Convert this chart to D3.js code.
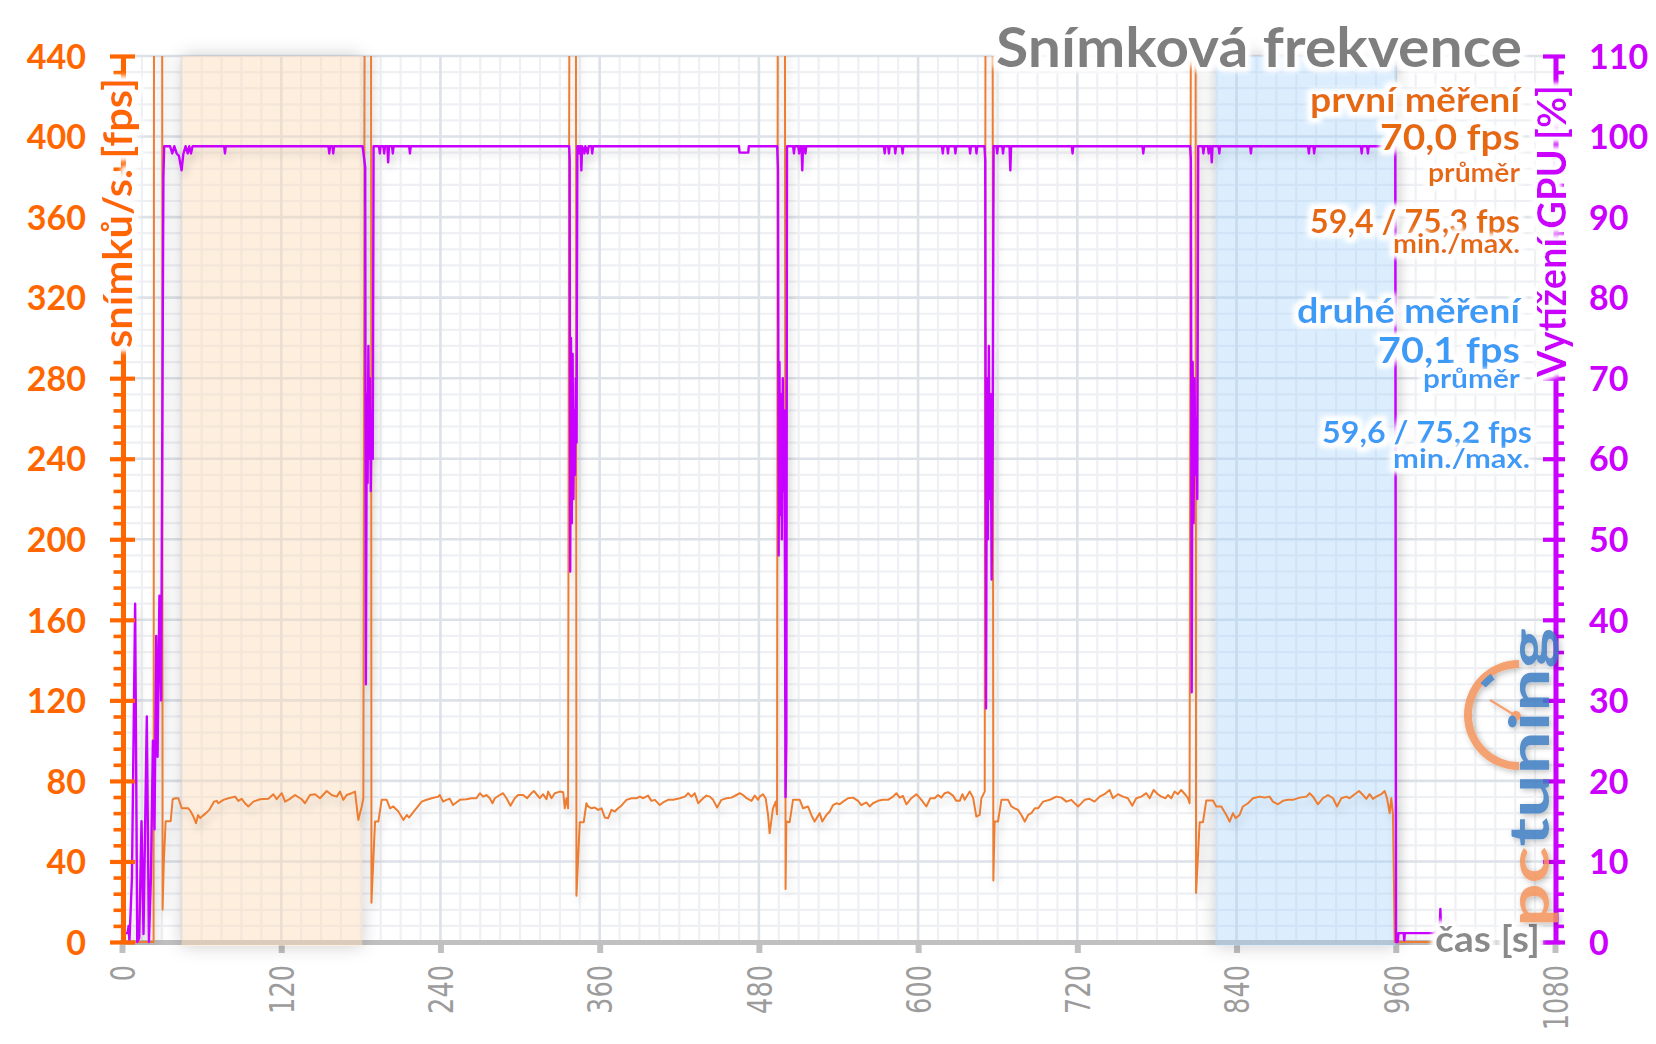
<!DOCTYPE html>
<html lang="cs">
<head>
<meta charset="utf-8">
<title>Snímková frekvence</title>
<script src="https://cdn.jsdelivr.net/npm/d3@7"></script>
<style>
html,body{margin:0;padding:0;background:#fff;overflow:hidden}
svg{display:block}
</style>
</head>
<body>
<svg id="chart" width="1656" height="1044"></svg>
<script>
// ---------------- DATA ----------------
const xTicks = [0,120,240,360,480,600,720,840,960,1080];
const fpsTicks = [0,40,80,120,160,200,240,280,320,360,400,440];
const gpuTicks = [0,10,20,30,40,50,60,70,80,90,100,110];
const bandFirst = [45,181];
const bandSecond = [824,960];
const chartTitle = 'Snímková frekvence';
const fpsAxisTitle = 'snímků/s. [fps]';
const gpuAxisTitle = 'Vytížení GPU [%]';
const timeAxisTitle = 'čas [s]';
const legendFirst = ['první měření','70,0 fps','průměr','59,4 / 75,3 fps','min./max.'];
const legendSecond = ['druhé měření','70,1 fps','průměr','59,6 / 75,2 fps','min./max.'];

// [time s, fps]  (600 = off-scale spike during loading)
const fpsData = [
[0,0],[23.8,0],[24.2,600],[30.2,600],[30.6,16],[31.5,39],[32.9,60],[36.7,60],[38.2,70.9],[40,71.4],[42.5,71.4],[45,66.4],[50,66.4],[51.8,64.8],[53.8,62.3],[55.8,59],[57.3,63],[59,61.5],[60.5,62.5],[63.3,64],[65.8,65.6],[69.3,69.7],[71.4,70.1],[72.6,68.9],[76.4,70.6],[80.2,71.4],[85.2,72.2],[87.7,70.1],[90.2,71.1],[92.7,68.9],[95.2,67.3],[99,69.7],[104,70.9],[110.3,71.1],[114.1,73.4],[116.6,70.9],[120.4,73.9],[122.9,69.7],[126.6,71.1],[130.4,73],[135.4,70.9],[137.9,68.9],[141.7,73],[145.5,73.4],[149.2,71.4],[154.3,75],[158,73],[161.8,72.2],[164.3,74.7],[166.8,70.6],[169.3,73],[173.1,73.9],[175.6,74.7],[178.1,60.6],[180.7,67.3],[181.9,71.4],[183.2,600],[187.6,600],[188,19.5],[190.7,59.8],[193.2,59.8],[195.7,70.6],[199.5,70.6],[202,66.4],[204.5,67.3],[208.3,64.8],[212.1,60.6],[214.6,63.1],[216.3,61.8],[220.9,65.6],[225.9,69.7],[229,70.5],[233.4,71.4],[238.4,72.2],
[239.5,73],[242,69.7],[244.5,70.6],[247,71.1],[249.5,68],[252,69.3],[254.6,70.6],[259.6,70.9],[263.4,71.4],[267.1,71.4],[269.7,73.9],[272.2,72.2],[274.7,73],[277.2,71.4],[279.2,68.9],[281,71.4],[284.7,73],[287.2,73.9],[289.8,71.4],[292.8,67.7],[296,71.4],[298.5,73],[302.3,73],[305.3,71.4],[308.6,73.9],[310.4,75],[312.9,73],[314.9,71.4],[317.4,73.4],[319.9,70.9],[321.2,74.7],[323.7,71.4],[326.2,73.9],[330,74.7],[332.5,74.4],[333.7,66.4],[335,71.4],[336.2,66.4],[337.5,600],[342,600],[342.5,23],[345,59.5],[348,59.5],[350,68.9],[351.3,67.3],[353.8,66.4],[356.3,66.8],[358.8,65.6],[361.4,66.4],[363.9,61.8],[366.4,61.5],[368.9,65.6],[371.4,64.8],[373.9,66.4],[376.4,67.7],[380.2,70.6],[384,71.4],[387.7,71.4],[390.3,72.2],[392.8,71.4],[396.5,72.7],[399,70.1],[401.6,70.6],[405.3,68],[407.8,69.3],[411.6,70.6],[415.4,70.6],[420.4,71.4],[424.2,72.2],[426.7,73.9],[429.2,72.2],[431.7,73.9],[434.2,68.9],[438,71.4],[440.5,72.7],[443,72.2],[445.5,70.6],[448.5,66.8],[451.8,70.6],[455.6,71.4],[459.3,71.7],[463.1,73],[465.6,73.9],[468.1,73],[470.7,71.4],[474.4,70.1],[476.9,72.7],[479.4,70.6],
[480.6,72.2],[483.1,73.4],[485.1,71.4],[486.9,63.1],[488.1,54],[490.6,66.4],[492.7,69.7],[493.7,63.4],[494.4,600],[499.5,600],[500.1,26.3],[500.7,59.8],[503.2,59.5],[505.7,70.6],[510.8,70.6],[513.3,66.4],[517,67.3],[519.5,63.1],[522,59.8],[525.8,64],[527.8,59.8],[530.9,63.1],[533.4,64.8],[535.9,68],[538.4,68.9],[540.9,68.4],[543.4,69.7],[547.2,71.4],[551,71.7],[554.7,70.1],[557.2,68],[561,69.3],[563.5,67.3],[566,68.9],[569.8,70.1],[573.6,70.6],[577.3,70.6],[581.1,72.2],[583.6,73.9],[586.1,71.7],[588.6,72.5],[591.2,68.4],[594.9,71.4],[598.7,73.4],[602.5,70.6],[606.2,67.3],[609.2,71.4],[612.5,71.4],[615,73],[617.5,71.7],[620,73.9],[622.6,74.4],[626.3,72.7],[628.8,70.1],[631.4,70.1],[633.4,73.4],[635.1,70.6],[638.9,74.7],[641.4,71.7],[643.9,62.3],[646.4,63.1],[647.7,71.4],[650.2,74.7],[651,600],[656,600],[656.7,30.6],[657.7,59.8],[660.2,59.8],[662.8,70.6],[667.8,70.6],[670.3,67.3],[672.8,66.4],[675.3,65.6],[677.8,63.1],[680.4,59.8],[682.9,63.1],[685.4,64],[687.9,66.4],[690.4,66.4],[694.2,69.7],[699.2,70.6],[701.7,71.4],[704.2,72.2],[708,71.7],[711.8,69.7],[715.5,70.6],[718,68.9],[720.6,67.3],
[721.7,68],[725.5,70.6],[729.2,71.1],[733,69.7],[736.8,72.2],[740.5,73.4],[744.3,75.5],[746.8,71.4],[750.6,73.4],[754.4,72.2],[758.1,71.4],[761.4,67.7],[764.4,71.4],[768.2,72.2],[772,73.9],[774.5,71.4],[777.5,75.5],[780.7,73.4],[783.3,72.2],[786.5,71.4],[788.3,73],[790.8,71.4],[793.3,74.7],[795.8,73.4],[798.3,75.5],[801.6,73],[803.4,71.4],[804.6,68.9],[805.9,600],[809,600],[809.5,24.3],[812.2,59.5],[814.7,59.5],[817.2,70.3],[822.2,70.3],[824.7,67.3],[828.5,67.3],[832.3,63.1],[834.8,59.8],[837.3,64],[839.3,61.5],[842.3,63.1],[844.8,67.3],[848.6,68.9],[852.4,71.4],[857.4,72.2],[861.1,71.7],[864.9,72.2],[867.4,69.7],[871.2,68.4],[875,70.1],[878.7,70.6],[882.5,70.6],[887.5,71.7],[892.6,72.2],[895.1,73.9],[897.6,72.2],[901.3,68.4],[905.1,71.4],[908.9,73],[912.7,71.4],[915.7,67.3],[919,71.4],[922.7,72.2],[925.2,71.4],[929,73.4],[932.3,75],[935.3,73],[937.8,71.1],[940.3,73.4],[942.8,71.1],[945.3,72.2],[949.1,73.4],[951.6,75],[953.4,71.4],[955.4,64],[956.6,71.4],[957.9,63.4],[959.2,0],[988,0]
];

// [time s, GPU load %]
const gpuData = [
[0,1.1],[4.2,1.1],[5,2],[5.6,0],[7.5,8],[9.9,42],[11.5,0],[13,0.5],[14.7,15],[16.2,1],[18.7,28],[20.3,0],[21.8,8],[23.3,25],[24.5,14],[25.8,38],[26.8,23],[28.2,43],[29.5,30],[31.2,95],[31.8,98.8],
[36.2,98.8],[37.9,97.9],[39.4,98.8],[41.2,97.9],[42.9,97.6],[44.9,95.8],[46.2,97.8],[47.9,98.8],[49.5,97.9],[50.7,98.8],[52,97.9],[53.2,98.8],
[77,98.8],[77.6,97.9],[78.2,98.8],[155.6,98.8],[156.2,97.9],[156.8,98.8],[158.6,98.8],[159.2,97.9],[159.8,98.8],[181.3,98.8],[183.3,96.2],
[183.8,32],[184.5,68],[185.1,57],[185.7,74],[186.3,60],[186.9,70],[187.5,56],[188.2,66],[189,60],[189.6,98.8],
[193.7,98.8],[194.3,97.9],[194.9,98.8],[197,98.8],[197.6,97.9],[198.2,98.8],[200,98.8],[200.6,96.8],[201.2,98.8],[203.5,98.8],[204.1,97.9],[204.7,98.8],[216.4,98.8],[217,97.9],[217.6,98.8],
[337,98.8],[337.4,97],[337.8,46],[338.4,75],[339,52],[339.6,73],[340.2,55],[340.8,66],[341.4,58],[342,70],[342.6,62],[343.2,98.8],
[344,98.8],[344.5,97.9],[345.1,98.8],[345.7,98.8],[346.2,95.8],[346.8,98.8],[348.5,97.9],[349.2,98.8],[351,97.9],[351.7,98.8],[353.8,98.8],[354.4,97.9],[355,98.8],
[465,98.8],[465.4,98],[472,98],[472.4,98.8],
[493.8,98.8],[494.4,96],[494.9,48],[495.5,72],[496.1,53],[496.7,68],[497.3,50],[498,70],[498.6,56],[499.3,66],[500.1,18],[500.7,25],[501.2,98.8],
[505.8,98.8],[506.4,97.9],[507,98.8],[509.7,98.8],[510.3,97.9],[510.9,98.8],[512.1,98.8],[512.7,95.8],[513.3,98.8],[514.5,98.8],[515.1,97.9],[515.7,98.8],
[574.2,98.8],[574.8,97.9],[575.4,98.8],[577.4,98.8],[578,97.9],[578.6,98.8],[582.2,98.8],[582.8,97.9],[583.4,98.8],[587.7,98.8],[588.3,97.9],[588.9,98.8],
[618,98.8],[618.6,97.9],[619.2,98.8],[621.9,98.8],[622.5,97.9],[623.1,98.8],[627.5,98.8],[628.1,97.9],[628.7,98.8],[638.6,98.8],[639.2,97.9],[639.8,98.8],[643.4,98.8],[644,97.9],[644.6,98.8],
[650,98.8],[650.6,97],[651.2,29],[651.9,70],[652.6,50],[653.3,74],[654,55],[654.7,68],[655.4,45],[656.2,62],[656.9,98.8],
[659,98.8],[659.6,97.9],[660.2,98.8],[663.4,98.8],[664,97.9],[664.6,98.8],[668.9,98.8],[669.5,95.8],[670.1,98.8],[715.8,98.8],[716.4,97.9],[717,98.8],[769.1,98.8],[769.7,97.9],[770.3,98.8],
[805,98.8],[805.6,97],[806.2,31],[806.9,72],[807.6,52],[808.3,70],[809,58],[809.7,65],[810.4,55],[811.1,98.8],
[814.4,98.8],[815,97.9],[815.6,98.8],[818.4,98.8],[819,97.9],[819.6,98.8],[820.7,98.8],[821.3,96.8],[821.9,98.8],[826.4,98.8],[827,97.9],[827.6,98.8],[850.2,98.8],[850.8,97.9],[851.4,98.8],[893.9,98.8],[894.5,97.9],[895.1,98.8],[897.9,98.8],[898.5,97.9],[899.1,98.8],[933.7,98.8],[934.3,97.9],[934.9,98.8],[938.4,98.8],[939,97.9],[939.6,98.8],
[959.6,98.8],[960.2,0],[961.5,0],[962,1.1],[966,1.1],[966.4,0.2],[966.8,1.1],[988,1.1],[993,1.3],[993.6,4.1],[994.2,1.5],[1000,1.3]
];

// ---------------- CHART ----------------
const svg = d3.select('#chart');
const P = {left:122, right:1555, top:56, bottom:942};
const x  = d3.scaleLinear().domain([0,1080]).range([P.left, P.right]);
const yF = d3.scaleLinear().domain([0,440]).range([P.bottom, P.top]);
const yG = d3.scaleLinear().domain([0,110]).range([P.bottom, P.top]);

const BOLD = "Lato, 'Open Sans', 'DejaVu Sans', sans-serif";
const C = {axisOrange:'#ff6600', lineOrange:'#ed7d31', textOrange:'#e66a0c', magenta:'#cc00ff',
           lineMagenta:'#c800ff', blue:'#3b9bf7', gray:'#7f7f7f', tickGray:'#9c9c9c', axisGray:'#c0c0c0'};

const defs = svg.append('defs');
// white glow behind texts
const halo = defs.append('filter').attr('id','halo').attr('x','-15%').attr('y','-40%').attr('width','130%').attr('height','180%');
halo.append('feMorphology').attr('in','SourceAlpha').attr('operator','dilate').attr('radius',4).attr('result','dil');
halo.append('feGaussianBlur').attr('in','dil').attr('stdDeviation',2.5).attr('result','blur');
halo.append('feFlood').attr('flood-color','#fff').attr('result','white');
halo.append('feComposite').attr('in','white').attr('in2','blur').attr('operator','in').attr('result','glow');
const hm = halo.append('feMerge');
hm.append('feMergeNode').attr('in','glow');
hm.append('feMergeNode').attr('in','glow');
hm.append('feMergeNode').attr('in','SourceGraphic');

// soft drop shadow for lines
const ls = defs.append('filter').attr('id','lineShadow').attr('filterUnits','userSpaceOnUse')
  .attr('x',0).attr('y',0).attr('width',1656).attr('height',1044);
ls.append('feGaussianBlur').attr('in','SourceAlpha').attr('stdDeviation',4).attr('result','b');
ls.append('feOffset').attr('in','b').attr('dx',3).attr('dy',6).attr('result','o');
ls.append('feComponentTransfer').attr('in','o').attr('result','s').append('feFuncA').attr('type','linear').attr('slope',0.16);
const lm = ls.append('feMerge');
lm.append('feMergeNode').attr('in','s');
lm.append('feMergeNode').attr('in','SourceGraphic');

// outer shadow of bands
const bs = defs.append('filter').attr('id','bandShadow').attr('filterUnits','userSpaceOnUse')
  .attr('x',0).attr('y',0).attr('width',1656).attr('height',1044);
bs.append('feGaussianBlur').attr('in','SourceAlpha').attr('stdDeviation',9).attr('result','b');
bs.append('feComposite').attr('in','b').attr('in2','SourceAlpha').attr('operator','out').attr('result','o');
bs.append('feFlood').attr('flood-color','#000').attr('flood-opacity',0.2).attr('result','f');
bs.append('feComposite').attr('in','f').attr('in2','o').attr('operator','in');

// logo shadow
const lgs = defs.append('filter').attr('id','logoShadow').attr('x','-30%').attr('y','-30%').attr('width','160%').attr('height','160%');
lgs.append('feDropShadow').attr('dx',2).attr('dy',2).attr('stdDeviation',3).attr('flood-color','#000').attr('flood-opacity',0.3);

defs.append('clipPath').attr('id','plotClip').append('rect')
  .attr('x',P.left).attr('y',P.top).attr('width',P.right-P.left+4).attr('height',P.bottom-P.top+3);

// ---- grid ----
const grid = svg.append('g');
const vMinor = d3.range(0,1081,15).filter(d=>d%120!==0);
const hMinor = d3.range(0,441,8).filter(d=>d%40!==0);
grid.selectAll('line.vmin').data(vMinor).join('line').attr('class','vmin')
  .attr('x1',d=>x(d)).attr('x2',d=>x(d)).attr('y1',P.top).attr('y2',P.bottom)
  .attr('stroke','#eef0f4').attr('stroke-width',2.2);
grid.selectAll('line.hmin').data(hMinor).join('line').attr('class','hmin')
  .attr('y1',d=>yF(d)).attr('y2',d=>yF(d)).attr('x1',P.left).attr('x2',P.right)
  .attr('stroke','#eef0f4').attr('stroke-width',2.2);
grid.selectAll('line.vmaj').data(xTicks).join('line').attr('class','vmaj')
  .attr('x1',d=>x(d)).attr('x2',d=>x(d)).attr('y1',P.top).attr('y2',P.bottom)
  .attr('stroke','#dde1e8').attr('stroke-width',2.6);
grid.selectAll('line.hmaj').data(fpsTicks).join('line').attr('class','hmaj')
  .attr('y1',d=>yF(d)).attr('y2',d=>yF(d)).attr('x1',P.left).attr('x2',P.right)
  .attr('stroke','#dde1e8').attr('stroke-width',2.6);

// ---- x axis ----
svg.append('line').attr('x1',P.left-2).attr('x2',P.right+5).attr('y1',P.bottom+0.5).attr('y2',P.bottom+0.5)
  .attr('stroke',C.axisGray).attr('stroke-width',5);
const gx = svg.append('g').attr('transform',`translate(0,${P.bottom+3})`)
  .call(d3.axisBottom(x).tickValues(xTicks).tickSize(8).tickSizeOuter(0).tickFormat(d3.format('d')));
gx.select('.domain').remove();
gx.selectAll('.tick line').attr('stroke',C.axisGray).attr('stroke-width',6);
gx.selectAll('.tick text')
  .attr('x',0).attr('y',0).attr('dy','0.36em')
  .attr('text-anchor','end')
  .attr('transform','translate(0,20) rotate(-90)')
  .attr('fill',C.tickGray)
  .style('font-family',"'Liberation Sans Narrow','DejaVu Sans Condensed','Liberation Sans',sans-serif")
  .style('font-size','34px')
  .attr('textLength',d=>String(d).length*16.3)
  .attr('lengthAdjust','spacingAndGlyphs');

// ---- bands ----
const bands = [{r:bandFirst, fill:'#fbd9b5', op:0.45},{r:bandSecond, fill:'#9fcffc', op:0.36}];
const bandG = svg.append('g');
bandG.selectAll('rect.bs').data(bands).join('rect').attr('class','bs')
  .attr('x',d=>x(d.r[0])).attr('width',d=>x(d.r[1])-x(d.r[0]))
  .attr('y',P.top).attr('height',P.bottom-P.top+4)
  .attr('fill','#000').attr('filter','url(#bandShadow)');
bandG.selectAll('rect.bf').data(bands).join('rect').attr('class','bf')
  .attr('x',d=>x(d.r[0])).attr('width',d=>x(d.r[1])-x(d.r[0]))
  .attr('y',P.top).attr('height',P.bottom-P.top+4)
  .attr('fill',d=>d.fill).attr('fill-opacity',d=>d.op);

// ---- lines ----
const lineF = d3.line().x(d=>x(d[0])).y(d=>yF(d[1]));
const lineG = d3.line().x(d=>x(d[0])).y(d=>yG(d[1]));
const lines = svg.append('g').attr('clip-path','url(#plotClip)').append('g').attr('filter','url(#lineShadow)');
lines.append('path').datum(fpsData).attr('d',lineF).attr('fill','none')
  .attr('stroke',C.lineOrange).attr('stroke-width',2).attr('stroke-linejoin','round');
lines.append('path').datum(gpuData).attr('d',lineG).attr('fill','none')
  .attr('stroke',C.lineMagenta).attr('stroke-width',2.4).attr('stroke-linejoin','round');

// ---- left axis (fps) ----
const LX = 123.5;
const gLmin = svg.append('g').attr('transform',`translate(${LX},0)`)
  .call(d3.axisLeft(yF).tickValues(hMinor).tickSize(10).tickSizeOuter(0).tickFormat(''));
gLmin.select('.domain').remove();
gLmin.selectAll('.tick line').attr('stroke',C.axisOrange).attr('stroke-width',3.6);
svg.append('line').attr('x1',LX).attr('x2',LX).attr('y1',P.top-1).attr('y2',P.bottom+2)
  .attr('stroke',C.axisOrange).attr('stroke-width',5);
const gL = svg.append('g').attr('transform',`translate(${LX},0)`)
  .call(d3.axisLeft(yF).tickValues(fpsTicks).tickSize(13).tickSizeOuter(0).tickFormat(d3.format('d')));
gL.select('.domain').remove();
gL.selectAll('.tick line').attr('x1',11.5).attr('x2',-13.5).attr('stroke',C.axisOrange).attr('stroke-width',4.2);
gL.selectAll('.tick text').attr('x',-37.5).attr('dy','0.36em').attr('text-anchor','end')
  .attr('fill',C.axisOrange).style('font-family',BOLD).style('font-weight','700').style('font-size','34px');

// ---- right axis (GPU) ----
const RX = 1556;
const gRmin = svg.append('g').attr('transform',`translate(${RX},0)`)
  .call(d3.axisRight(yG).tickValues(d3.range(0,111,2).filter(d=>d%10!==0)).tickSize(8).tickSizeOuter(0).tickFormat(''));
gRmin.select('.domain').remove();
gRmin.selectAll('.tick line').attr('stroke',C.magenta).attr('stroke-width',3.6);
svg.append('line').attr('x1',RX).attr('x2',RX).attr('y1',P.top-1).attr('y2',P.bottom+2)
  .attr('stroke',C.magenta).attr('stroke-width',5);
const gR = svg.append('g').attr('transform',`translate(${RX},0)`)
  .call(d3.axisRight(yG).tickValues(gpuTicks).tickSize(9).tickSizeOuter(0).tickFormat(d3.format('d')));
gR.select('.domain').remove();
gR.selectAll('.tick line').attr('x1',-13).attr('x2',9).attr('stroke',C.magenta).attr('stroke-width',4.2);
gR.selectAll('.tick text').attr('x',33).attr('dy','0.36em').attr('text-anchor','start')
  .attr('fill',C.magenta).style('font-family',BOLD).style('font-weight','700').style('font-size','34px');

// ---- texts ----
function label(g, txt, o){
  const t = g.append('text').text(txt)
    .attr('fill',o.fill).attr('text-anchor',o.anchor||'end')
    .style('font-family',BOLD).style('font-weight','700').style('font-size',o.size+'px')
    .attr('filter','url(#halo)');
  if (o.rotate) t.attr('transform',`translate(${o.x},${o.y}) rotate(-90)`);
  else t.attr('x',o.x).attr('y',o.y);
  if (o.len) t.attr('textLength',o.len).attr('lengthAdjust','spacingAndGlyphs');
  return t;
}
const T = svg.append('g');
label(T, fpsAxisTitle, {fill:C.axisOrange, size:40, x:132, y:348, rotate:true, anchor:'start', len:270});
label(T, gpuAxisTitle, {fill:C.magenta, size:40, x:1566, y:377, rotate:true, anchor:'start', len:292});
label(T, timeAxisTitle, {fill:'#8a8a8a', size:37, x:1540, y:952, len:105});
label(T, chartTitle, {fill:C.gray, size:56, x:1522, y:67, len:526});

const firstLayout = [{y:112,size:35,len:210,x:1520},{y:150,size:36,len:140,x:1520},{y:182,size:26,len:92,x:1520},
                     {y:233,size:32,len:210,x:1520},{y:253,size:26,len:127,x:1520}];
const secondLayout = [{y:323,size:35,len:223,x:1520},{y:363,size:36,len:142,x:1520},{y:388,size:26,len:97,x:1520},
                      {y:443,size:31,len:210,x:1532},{y:468,size:27,len:137,x:1530}];
legendFirst.forEach((s,i)=>label(T, s, Object.assign({fill:C.textOrange}, firstLayout[i])));
legendSecond.forEach((s,i)=>label(T, s, Object.assign({fill:C.blue}, secondLayout[i])));

// ---- pctuning logo ----
const logo = svg.append('g').attr('opacity',0.85).attr('filter','url(#logoShadow)');
const gc = {x:1519, y:715};
logo.append('path').attr('transform',`translate(${gc.x},${gc.y})`)
  .attr('d', d3.arc()({innerRadius:47, outerRadius:55, startAngle:-Math.PI, endAngle:0}))
  .attr('fill','#f4925a');
logo.append('path').attr('transform',`translate(${gc.x},${gc.y})`)
  .attr('d', d3.arc()({innerRadius:43, outerRadius:50, startAngle:-0.88, endAngle:-0.6}))
  .attr('fill','#3a7cc2');
logo.append('line').attr('x1',gc.x-3).attr('y1',gc.y+1).attr('x2',1490).attr('y2',700)
  .attr('stroke','#f4925a').attr('stroke-width',2.5);
logo.append('circle').attr('cx',gc.x-3).attr('cy',gc.y+1).attr('r',5).attr('fill','#f4925a');
const lt = logo.append('text').attr('transform','translate(1549,927) rotate(-90)')
  .style('font-family',BOLD).style('font-weight','700').style('font-size','55px')
  .attr('textLength',299).attr('lengthAdjust','spacingAndGlyphs');
lt.append('tspan').text('pc').attr('fill','#f4925a');
lt.append('tspan').text('tuning').attr('fill','#3a7cc2');
</script>
</body>
</html>
